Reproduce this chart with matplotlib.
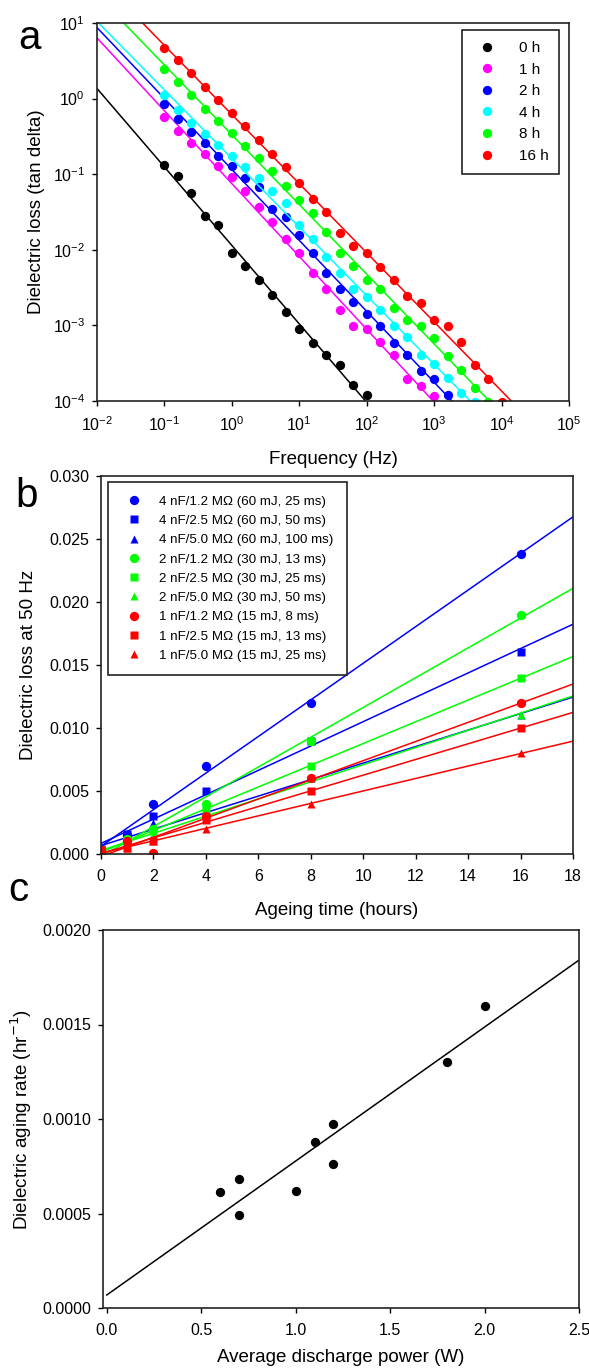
import numpy as np
import matplotlib.pyplot as plt

plt.rcParams['font.family'] = ['Liberation Sans', 'DejaVu Sans']
plt.rcParams['axes.linewidth'] = 1.2

##############################################################################
#                      DATA
##############################################################################

# --- panel a: dielectric loss vs frequency for each ageing time ---
FREQ = [0.1, 0.158, 0.251, 0.398, 0.631, 1.0, 1.58, 2.51, 3.98, 6.31,
        10, 15.8, 25.1, 39.8, 63.1, 100, 158, 251, 398, 631,
        1000, 1580, 2510, 3980, 6310, 10000]

loss_0h = [0.1315, 0.0948, 0.0558, 0.0281, 0.0212, 0.00912, 0.00604, 0.00403,
           0.00251, 0.00149, 0.000895, 0.000594, 0.000404, 0.000297, 0.000161,
           0.000119]
loss_1h = [0.564, 0.376, 0.258, 0.186, 0.129, 0.0928, 0.0605, 0.0364, 0.0232,
           0.0137, 0.00906, 0.00499, 0.00305, 0.00161, 0.000993, 0.000883,
           0.000596, 0.000403, 0.000196, 0.000156, 0.000117]
loss_2h = [0.859, 0.542, 0.367, 0.258, 0.175, 0.127, 0.0897, 0.0684, 0.0348,
           0.0275, 0.0156, 0.00898, 0.00492, 0.00305, 0.00206, 0.00142,
           0.000993, 0.000586, 0.000403, 0.000248, 0.000197, 0.000119]
loss_4h = [1.12, 0.714, 0.475, 0.340, 0.245, 0.175, 0.126, 0.0897, 0.0605,
           0.0419, 0.0212, 0.0141, 0.00807, 0.00499, 0.00305, 0.00239, 0.00160,
           0.000993, 0.000698, 0.000403, 0.000305, 0.000202, 0.000129, 0.000098]
loss_8h = [2.48, 1.65, 1.10, 0.730, 0.506, 0.350, 0.237, 0.166, 0.110, 0.0698,
           0.0462, 0.0310, 0.0171, 0.00907, 0.00604, 0.00402, 0.00301, 0.00172,
           0.00118, 0.000993, 0.000687, 0.000396, 0.000259, 0.000149, 0.000098]
loss_16h = [4.72, 3.20, 2.15, 1.43, 0.962, 0.646, 0.429, 0.285, 0.186, 0.124,
            0.0773, 0.0469, 0.0312, 0.0166, 0.0111, 0.00897, 0.00594, 0.00402,
            0.00248, 0.00200, 0.00119, 0.000993, 0.000596, 0.000299, 0.000197,
            0.000098]

AGE_LABELS = ['0 h', '1 h', '2 h', '4 h', '8 h', '16 h']
AGE_SERIES = [loss_0h, loss_1h, loss_2h, loss_4h, loss_8h, loss_16h]
AGE_COLORS = ['#000000', '#ff00ff', '#0000ff', '#00ffff', '#00ff00', '#ff0000']

# --- panel b: dielectric loss at 50 Hz vs ageing time ---
AGE_HOURS = [0, 1, 2, 4, 8, 16]

B_LABELS = [
    '4 nF/1.2 M\u03a9 (60 mJ, 25 ms)',
    '4 nF/2.5 M\u03a9 (60 mJ, 50 ms)',
    '4 nF/5.0 M\u03a9 (60 mJ, 100 ms)',
    '2 nF/1.2 M\u03a9 (30 mJ, 13 ms)',
    '2 nF/2.5 M\u03a9 (30 mJ, 25 ms)',
    '2 nF/5.0 M\u03a9 (30 mJ, 50 ms)',
    '1 nF/1.2 M\u03a9 (15 mJ, 8 ms)',
    '1 nF/2.5 M\u03a9 (15 mJ, 13 ms)',
    '1 nF/5.0 M\u03a9 (15 mJ, 25 ms)',
]
B_VALUES = [
    [0.0004, 0.0015, 0.0040, 0.0070, 0.0120, 0.0238],
    [0.0004, 0.0016, 0.0030, 0.0050, 0.0090, 0.0160],
    [0.0003, 0.0010, 0.0025, 0.0035, 0.0060, 0.0110],
    [0.0003, 0.0012, 0.0020, 0.0040, 0.0090, 0.0190],
    [0.0003, 0.0010, 0.0018, 0.0035, 0.0070, 0.0140],
    [0.0002, 0.0008, 0.0015, 0.0033, 0.0060, 0.0110],
    [0.0003, 0.0010, 0.0001, 0.0030, 0.0060, 0.0120],
    [0.0003, 0.0005, 0.0010, 0.0027, 0.0050, 0.0100],
    [0.0002, 0.0005, 0.0010, 0.0020, 0.0040, 0.0080],
]
B_COLORS = ['#0000ff'] * 3 + ['#00ff00'] * 3 + ['#ff0000'] * 3
B_MARKERS = ['o', 's', '^'] * 3

# --- panel c: ageing rate vs average discharge power ---
POWER_W = [0.6, 0.7, 0.7, 1.0, 1.1, 1.2, 1.2, 1.8, 2.0]
AGING_RATE = [0.000612, 0.000681, 0.000492, 0.000621, 0.000880, 0.000972,
              0.000762, 0.00130, 0.00160]

##############################################################################
#                      FIGURE
##############################################################################

W, H = 589, 1372
fig = plt.figure(figsize=(W / 100, H / 100), dpi=100)


def box(l, t, r, b):
    return [l / W, 1 - b / H, (r - l) / W, (b - t) / H]


def style_axes(ax):
    ax.tick_params(direction='out', length=3.5, width=1.0, labelsize=11.5,
                   top=False, right=False)
    ax.tick_params(axis='x', pad=7)
    ax.tick_params(axis='y', pad=5)
    for sp in ax.spines.values():
        sp.set_color('#222222')


LABEL_FS = 13.5

# ---------------- panel a ----------------
ax = fig.add_axes(box(97, 23, 569, 401))
xfit = np.array([1e-2, 1e5])
for vals, lab, col in zip(AGE_SERIES, AGE_LABELS, AGE_COLORS):
    f = np.array(FREQ[:len(vals)])
    v = np.array(vals)
    slope, icpt = np.polyfit(np.log10(f), np.log10(v), 1)
    ax.plot(xfit, 10 ** (icpt + slope * np.log10(xfit)), color=col, lw=1.1)
    ax.plot(f, v, 'o', color=col, ms=6.7, mec='none', label=lab)
ax.set_xscale('log')
ax.set_yscale('log')
ax.set_xlim(1e-2, 1e5)
ax.set_ylim(1e-4, 1e1)
ax.xaxis.set_minor_locator(plt.NullLocator())
ax.yaxis.set_minor_locator(plt.NullLocator())
ax.set_xticks([1e-2, 1e-1, 1e0, 1e1, 1e2, 1e3, 1e4, 1e5])
ax.set_yticks([1e-4, 1e-3, 1e-2, 1e-1, 1e0, 1e1])
style_axes(ax)
ax.set_xlabel('Frequency (Hz)', fontsize=LABEL_FS, labelpad=12)
ax.set_ylabel('Dielectric loss (tan delta)', fontsize=LABEL_FS, labelpad=6)
leg = ax.legend(loc='upper right', bbox_to_anchor=(0.979, 0.981),
                borderaxespad=0, fontsize=11, fancybox=False, framealpha=1,
                edgecolor='#222222', handletextpad=1.2, labelspacing=0.5,
                borderpad=0.7, handlelength=1.8)
leg.get_frame().set_linewidth(1.2)
fig.text(30 / W, 1 - 38 / H, 'a', fontsize=29, ha='center', va='center')

# ---------------- panel b ----------------
ax = fig.add_axes(box(101, 476, 573, 854))
xl = np.array([0, 18])
for vals, lab, col, mk in zip(B_VALUES, B_LABELS, B_COLORS, B_MARKERS):
    slope, icpt = np.polyfit(AGE_HOURS, vals, 1)
    ax.plot(xl, icpt + slope * xl, color=col, lw=1.1)
    ms = 6.7 if mk == 'o' else 5.7
    ax.plot(AGE_HOURS, vals, mk, color=col, ms=ms, mec='none', label=lab)
ax.set_xlim(0, 18)
ax.set_ylim(0, 0.030)
ax.set_xticks(np.arange(0, 19, 2))
ax.set_yticks(np.arange(0, 0.0301, 0.005))
ax.yaxis.set_major_formatter(plt.FormatStrFormatter('%.3f'))
style_axes(ax)
ax.set_xlabel('Ageing time (hours)', fontsize=LABEL_FS, labelpad=13)
ax.set_ylabel('Dielectric loss at 50 Hz', fontsize=LABEL_FS, labelpad=9)
leg = ax.legend(loc='upper left', bbox_to_anchor=(0.0148, 0.984),
                borderaxespad=0, fontsize=9.6, fancybox=False, framealpha=1,
                edgecolor='#222222', handletextpad=1.0, labelspacing=0.52,
                borderpad=1.0, handlelength=1.85)
leg.get_frame().set_linewidth(1.2)
fig.text(27 / W, 1 - 496 / H, 'b', fontsize=29, ha='center', va='center')

# ---------------- panel c ----------------
ax = fig.add_axes(box(103, 930, 579, 1308))
slope, icpt = np.polyfit(POWER_W, AGING_RATE, 1)
xl = np.array([0, 2.5])
ax.plot(xl, icpt + slope * xl, color='black', lw=1.1)
ax.plot(POWER_W, AGING_RATE, 'o', color='black', ms=6.7, mec='none')
ax.set_xlim(-0.02, 2.5)
ax.set_ylim(0, 0.0020)
ax.set_xticks([0.0, 0.5, 1.0, 1.5, 2.0, 2.5])
ax.set_yticks([0.0, 0.0005, 0.0010, 0.0015, 0.0020])
ax.xaxis.set_major_formatter(plt.FormatStrFormatter('%.1f'))
ax.yaxis.set_major_formatter(plt.FormatStrFormatter('%.4f'))
style_axes(ax)
ax.set_xlabel('Average discharge power (W)', fontsize=LABEL_FS, labelpad=8)
ax.set_ylabel('Dielectric aging rate (hr$^{-1}$)', fontsize=LABEL_FS, labelpad=6)
fig.text(18 / W, 1 - 890 / H, 'c', fontsize=29, ha='center', va='center')

fig.savefig('out.png', dpi=100)
